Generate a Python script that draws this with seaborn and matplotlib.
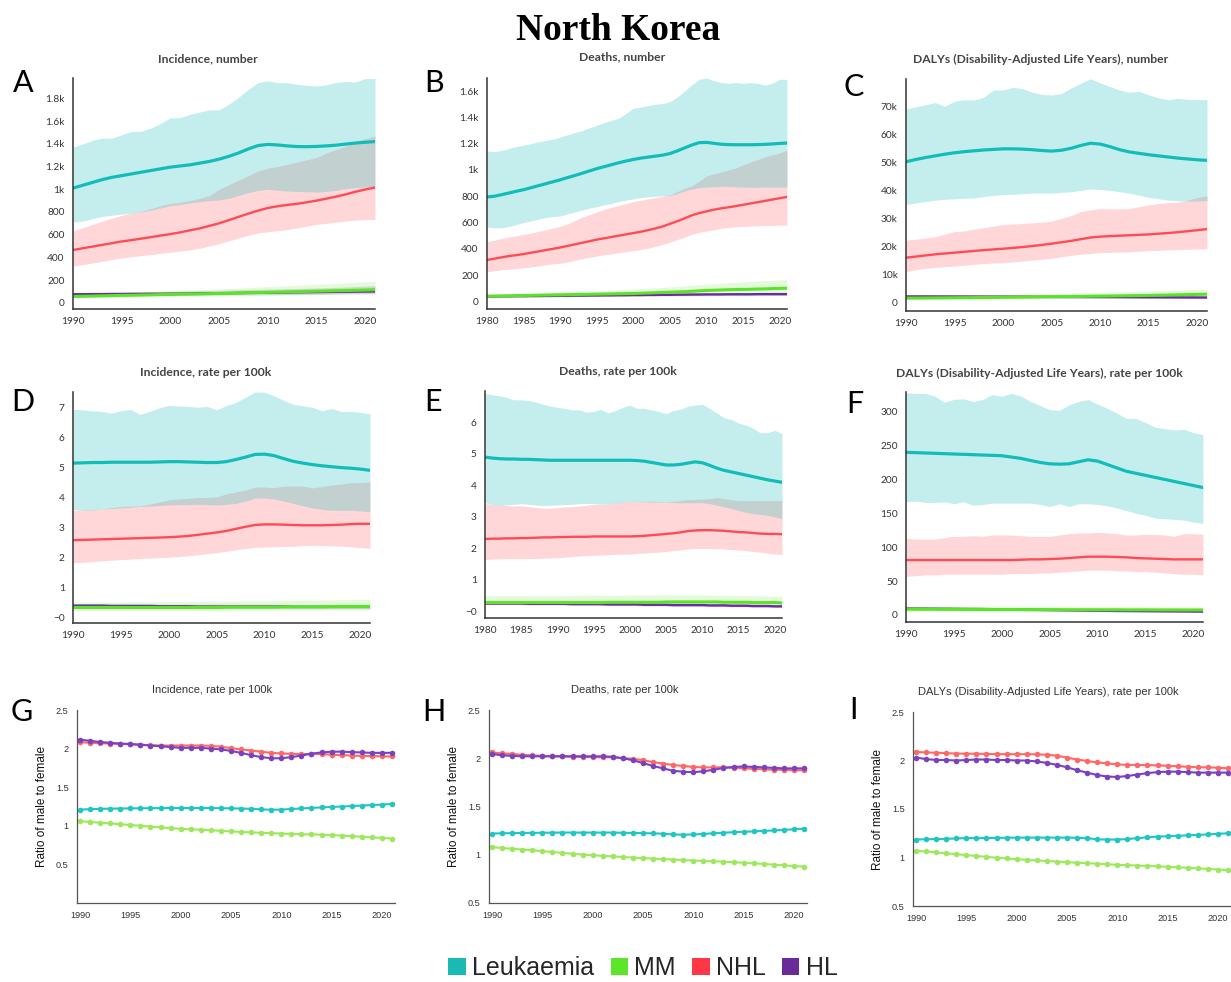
import matplotlib
matplotlib.use("Agg")
import matplotlib.pyplot as plt
import seaborn as sns
from matplotlib.patches import Patch

# ---------------------------------------------------------------- years
years_90 = list(range(1990, 2022))
years_80 = list(range(1980, 2022))
series_names = ["Leukaemia", "MM", "NHL", "HL"]

# ---------------------------------------------------------------- A: incidence, number
a_leuk_mean = [1010, 1035, 1060, 1085, 1105, 1120, 1135, 1150, 1165, 1180,
               1195, 1205, 1215, 1230, 1245, 1265, 1290, 1320, 1355, 1385,
               1395, 1390, 1382, 1376, 1375, 1377, 1382, 1388, 1398, 1407,
               1414, 1420]
a_leuk_hi = [1370, 1400, 1430, 1450, 1450, 1480, 1510, 1510, 1540, 1580,
             1630, 1630, 1660, 1680, 1700, 1700, 1750, 1810, 1880, 1940,
             1955, 1940, 1938, 1925, 1915, 1910, 1920, 1940, 1950, 1945,
             1975, 1975]
a_leuk_lo = [710, 720, 740, 760, 772, 780, 790, 800, 815, 835,
             855, 865, 880, 890, 900, 905, 920, 945, 970, 990,
             1000, 990, 985, 980, 978, 975, 980, 990, 1005, 1015,
             1018, 1020]
a_nhl_mean = [465, 480, 495, 510, 525, 540, 552, 565, 578, 592,
              605, 620, 638, 655, 677, 700, 728, 757, 785, 812,
              835, 850, 862, 872, 885, 900, 917, 935, 955, 978,
              998, 1015]
a_nhl_hi = [635, 660, 690, 720, 745, 770, 790, 805, 830, 855,
            875, 885, 900, 920, 945, 1000, 1040, 1080, 1120, 1160,
            1185, 1200, 1220, 1240, 1260, 1280, 1320, 1350, 1380, 1420,
            1445, 1470]
a_nhl_lo = [325, 335, 350, 365, 380, 395, 405, 415, 425, 435,
            445, 455, 465, 480, 500, 520, 545, 570, 595, 615,
            625, 635, 645, 660, 675, 690, 700, 710, 720, 728,
            732, 735]
a_mm_mean = [55, 57, 59, 61, 63, 65, 66, 68, 70, 72,
             73, 75, 76, 78, 80, 82, 84, 86, 88, 90,
             92, 94, 96, 98, 100, 102, 104, 106, 108, 110,
             112, 115]
a_mm_hi = [75, 78, 81, 84, 87, 90, 93, 96, 99, 102,
           105, 108, 111, 115, 118, 122, 126, 130, 134, 138,
           142, 146, 150, 154, 158, 162, 166, 170, 175, 180,
           185, 190]
a_mm_lo = [45, 46, 47, 48, 49, 50, 51, 52, 53, 54,
           55, 56, 57, 58, 59, 60, 61, 62, 63, 64,
           65, 66, 67, 68, 69, 70, 72, 74, 76, 77,
           78, 80]
a_hl_mean = [75, 75, 76, 76, 77, 77, 78, 78, 79, 79,
             80, 80, 81, 82, 83, 84, 85, 86, 87, 88,
             89, 90, 91, 92, 93, 94, 95, 96, 97, 98,
             99, 100]
a_hl_hi = [90, 91, 92, 93, 94, 95, 96, 97, 98, 99,
           100, 102, 104, 106, 108, 110, 112, 114, 116, 118,
           120, 122, 124, 126, 128, 130, 133, 136, 139, 142,
           146, 150]
a_hl_lo = [62, 62, 63, 63, 64, 64, 65, 65, 66, 66,
           67, 67, 68, 68, 69, 69, 70, 70, 71, 71,
           72, 72, 73, 73, 74, 75, 76, 77, 78, 79,
           79, 80]

# ---------------------------------------------------------------- B: deaths, number (1980-2021)
b_leuk_mean = [795, 800, 812, 825, 838, 850, 865, 880, 895, 910,
               925, 942, 958, 975, 993, 1010, 1025, 1040, 1055, 1068,
               1080, 1090, 1098, 1105, 1113, 1125, 1145, 1168, 1190, 1208,
               1210, 1203, 1196, 1193, 1192, 1192, 1192, 1193, 1195, 1198,
               1202, 1205]
b_leuk_hi = [1145, 1140, 1148, 1165, 1178, 1190, 1200, 1215, 1225, 1235,
             1250, 1268, 1285, 1300, 1320, 1340, 1360, 1378, 1395, 1430,
             1470, 1478, 1490, 1500, 1505, 1520, 1555, 1600, 1650, 1690,
             1700, 1680, 1665, 1660, 1665, 1660, 1665, 1660, 1645, 1660,
             1690, 1690]
b_leuk_lo = [565, 560, 560, 570, 585, 600, 612, 625, 638, 645,
             650, 665, 680, 695, 710, 720, 735, 745, 760, 770,
             780, 790, 795, 800, 803, 805, 820, 840, 855, 865,
             870, 872, 875, 875, 872, 870, 868, 868, 870, 870,
             870, 870]
b_nhl_mean = [315, 325, 335, 345, 352, 360, 370, 380, 390, 400,
              410, 422, 434, 446, 458, 470, 480, 490, 500, 510,
              520, 530, 542, 555, 570, 590, 610, 632, 655, 672,
              685, 698, 708, 716, 725, 735, 745, 755, 765, 775,
              785, 795]
b_nhl_hi = [455, 465, 478, 490, 500, 510, 520, 532, 545, 558,
            570, 590, 615, 640, 660, 680, 700, 715, 730, 745,
            760, 770, 780, 790, 800, 810, 835, 860, 880, 915,
            955, 970, 985, 1000, 1015, 1040, 1060, 1080, 1100, 1115,
            1130, 1150]
b_nhl_lo = [225, 232, 240, 245, 250, 255, 262, 270, 278, 285,
            290, 300, 312, 325, 335, 345, 355, 362, 370, 378,
            385, 395, 405, 418, 432, 450, 470, 490, 510, 525,
            535, 545, 555, 562, 567, 570, 573, 575, 577, 578,
            580, 580]
b_mm_mean = [40, 41, 42, 43, 44, 45, 46, 47, 48, 49,
             50, 51, 52, 53, 54, 55, 56, 57, 58, 59,
             60, 62, 64, 66, 68, 70, 72, 74, 77, 80,
             83, 85, 87, 89, 90, 91, 92, 94, 95, 97,
             99, 100]
b_mm_hi = [50, 52, 54, 56, 58, 60, 62, 64, 66, 68,
           70, 72, 74, 76, 78, 80, 82, 85, 88, 91,
           94, 97, 100, 103, 106, 110, 114, 118, 122, 126,
           130, 134, 138, 142, 145, 148, 151, 154, 157, 160,
           163, 165]
b_mm_lo = [30, 30, 31, 31, 32, 32, 33, 33, 34, 34,
           35, 35, 36, 36, 37, 38, 39, 40, 41, 42,
           43, 44, 45, 46, 47, 48, 49, 50, 51, 52,
           53, 54, 55, 55, 56, 56, 57, 58, 58, 59,
           59, 60]
b_hl_mean = [38, 38, 39, 39, 40, 40, 41, 41, 42, 42,
             43, 43, 44, 44, 45, 45, 46, 46, 47, 47,
             48, 48, 49, 49, 50, 50, 51, 51, 52, 52,
             53, 53, 53, 54, 54, 54, 54, 55, 55, 55,
             55, 55]
b_hl_hi = [48, 48, 49, 49, 50, 50, 51, 51, 52, 52,
           53, 53, 54, 54, 55, 55, 56, 56, 57, 57,
           58, 58, 59, 59, 60, 60, 61, 61, 62, 62,
           63, 63, 64, 64, 65, 65, 66, 66, 67, 67,
           68, 68]
b_hl_lo = [30, 30, 31, 31, 32, 32, 33, 33, 34, 34,
           35, 35, 36, 36, 37, 37, 38, 38, 39, 39,
           40, 40, 40, 41, 41, 41, 42, 42, 42, 43,
           43, 43, 44, 44, 44, 44, 45, 45, 45, 45,
           45, 45]

# ---------------------------------------------------------------- C: DALYs, number
c_leuk_mean = [50200, 51000, 51700, 52300, 52900, 53400, 53800, 54100, 54400, 54600,
               54800, 54800, 54700, 54500, 54200, 54000, 54300, 55000, 56000, 56800,
               56500, 55600, 54500, 53700, 53200, 52700, 52300, 51900, 51500, 51200,
               50900, 50700]
c_leuk_hi = [69000, 69800, 70500, 71300, 70000, 71800, 72300, 72200, 73200, 75800,
             75800, 76700, 76300, 75000, 74200, 74000, 74500, 76500, 78200, 79800,
             78300, 77000, 75800, 75000, 75300, 74000, 73000, 72300, 72800, 72400,
             72400, 72300]
c_leuk_lo = [35000, 35500, 36000, 36500, 36800, 37000, 37200, 37300, 37800, 38200,
             38500, 38600, 38800, 39000, 39000, 39000, 39300, 39500, 40000, 40500,
             40300, 40000, 39500, 39000, 38300, 37500, 37000, 36500, 36300, 36200,
             36200, 36300]
c_nhl_mean = [16000, 16400, 16800, 17200, 17500, 17800, 18100, 18400, 18700, 18950,
              19200, 19500, 19800, 20150, 20550, 21000, 21500, 22000, 22600, 23200,
              23500, 23700, 23850, 24000, 24150, 24300, 24550, 24800, 25100, 25450,
              25800, 26200]
c_nhl_hi = [22300, 22600, 23000, 23500, 24400, 25300, 25500, 26200, 26700, 27300,
            27800, 28000, 28200, 28400, 28700, 29000, 30000, 31000, 32500, 33000,
            33500, 33400, 33400, 33500, 34200, 34800, 35300, 35700, 35800, 36500,
            37500, 38000]
c_nhl_lo = [11000, 11700, 12200, 12500, 12800, 13000, 13300, 13600, 13900, 14100,
            14200, 14500, 14800, 15100, 15400, 15800, 16300, 16800, 17200, 17500,
            17800, 17900, 18000, 18100, 18300, 18500, 18600, 18800, 18900, 19000,
            19100, 19200]
c_mm_mean = [1600, 1620, 1650, 1680, 1700, 1730, 1760, 1790, 1820, 1850,
             1880, 1920, 1960, 2000, 2040, 2080, 2120, 2160, 2200, 2250,
             2300, 2350, 2400, 2450, 2500, 2560, 2620, 2680, 2760, 2840,
             2920, 3000]
c_mm_hi = [2300, 2350, 2400, 2450, 2500, 2560, 2620, 2680, 2740, 2800,
           2870, 2940, 3010, 3080, 3150, 3230, 3310, 3390, 3470, 3550,
           3640, 3730, 3820, 3910, 4000, 4100, 4200, 4300, 4420, 4540,
           4670, 4800]
c_mm_lo = [1100, 1120, 1140, 1160, 1180, 1200, 1230, 1260, 1290, 1320,
           1350, 1380, 1410, 1440, 1470, 1500, 1530, 1560, 1590, 1620,
           1650, 1680, 1710, 1740, 1770, 1800, 1840, 1880, 1910, 1940,
           1970, 2000]
c_hl_mean = [2200, 2200, 2200, 2190, 2180, 2170, 2160, 2150, 2140, 2130,
             2120, 2110, 2100, 2080, 2060, 2040, 2020, 2000, 1990, 1980,
             1970, 1960, 1950, 1930, 1910, 1890, 1870, 1860, 1850, 1830,
             1810, 1800]
c_hl_hi = [2700, 2700, 2700, 2690, 2680, 2670, 2660, 2650, 2640, 2630,
           2620, 2610, 2600, 2590, 2580, 2570, 2560, 2550, 2540, 2530,
           2520, 2510, 2500, 2490, 2480, 2470, 2460, 2450, 2440, 2430,
           2420, 2400]
c_hl_lo = [1800, 1800, 1790, 1780, 1770, 1760, 1750, 1740, 1730, 1720,
           1710, 1700, 1690, 1680, 1670, 1660, 1650, 1640, 1620, 1600,
           1590, 1580, 1560, 1540, 1520, 1500, 1490, 1470, 1450, 1430,
           1420, 1400]

# ---------------------------------------------------------------- D: incidence, rate per 100k
d_leuk_mean = [5.15, 5.16, 5.17, 5.17, 5.18, 5.18, 5.18, 5.18, 5.18, 5.19,
               5.20, 5.20, 5.19, 5.18, 5.17, 5.17, 5.20, 5.27, 5.35, 5.44,
               5.45, 5.40, 5.30, 5.21, 5.15, 5.10, 5.06, 5.03, 5.00, 4.98,
               4.95, 4.91]
d_leuk_hi = [6.95, 6.93, 6.90, 6.88, 6.82, 6.90, 6.95, 6.78, 6.88, 7.00,
             7.08, 7.06, 7.05, 7.02, 7.05, 6.93, 7.08, 7.18, 7.35, 7.53,
             7.52, 7.40, 7.25, 7.12, 7.07, 7.02, 6.90, 6.98, 6.88, 6.88,
             6.85, 6.80]
d_leuk_lo = [3.60, 3.57, 3.58, 3.62, 3.63, 3.65, 3.67, 3.70, 3.71, 3.73,
             3.75, 3.76, 3.76, 3.77, 3.76, 3.75, 3.77, 3.80, 3.88, 3.98,
             3.98, 3.95, 3.88, 3.80, 3.72, 3.65, 3.60, 3.57, 3.57, 3.57,
             3.55, 3.52]
d_nhl_mean = [2.57, 2.58, 2.59, 2.60, 2.61, 2.62, 2.63, 2.64, 2.65, 2.66,
              2.67, 2.69, 2.71, 2.75, 2.79, 2.83, 2.88, 2.95, 3.02, 3.08,
              3.10, 3.10, 3.09, 3.08, 3.07, 3.07, 3.07, 3.08, 3.09, 3.11,
              3.12, 3.12]
d_nhl_hi = [3.57, 3.58, 3.60, 3.62, 3.66, 3.70, 3.71, 3.72, 3.78, 3.85,
            3.92, 3.95, 3.97, 4.00, 4.00, 4.02, 4.12, 4.18, 4.25, 4.35,
            4.35, 4.33, 4.38, 4.38, 4.38, 4.32, 4.37, 4.42, 4.45, 4.50,
            4.50, 4.52]
d_nhl_lo = [1.82, 1.83, 1.85, 1.88, 1.90, 1.92, 1.94, 1.96, 1.97, 1.99,
            2.00, 2.02, 2.05, 2.08, 2.12, 2.15, 2.20, 2.25, 2.29, 2.33,
            2.34, 2.35, 2.36, 2.37, 2.39, 2.40, 2.39, 2.38, 2.37, 2.35,
            2.32, 2.30]
d_mm_mean = [0.32, 0.32, 0.32, 0.32, 0.32, 0.32, 0.32, 0.32, 0.32, 0.32,
             0.32, 0.32, 0.32, 0.32, 0.32, 0.32, 0.33, 0.33, 0.33, 0.33,
             0.33, 0.33, 0.34, 0.34, 0.34, 0.34, 0.34, 0.35, 0.35, 0.35,
             0.35, 0.35]
d_mm_hi = [0.50, 0.50, 0.50, 0.50, 0.50, 0.50, 0.51, 0.51, 0.51, 0.51,
           0.52, 0.52, 0.52, 0.52, 0.53, 0.53, 0.53, 0.53, 0.54, 0.54,
           0.54, 0.55, 0.55, 0.55, 0.56, 0.56, 0.57, 0.57, 0.58, 0.58,
           0.59, 0.60]
d_mm_lo = [0.22, 0.22, 0.22, 0.22, 0.22, 0.22, 0.22, 0.22, 0.22, 0.22,
           0.22, 0.22, 0.22, 0.22, 0.22, 0.22, 0.22, 0.23, 0.23, 0.23,
           0.23, 0.23, 0.23, 0.23, 0.23, 0.23, 0.23, 0.23, 0.23, 0.23,
           0.23, 0.23]
d_hl_mean = [0.38, 0.38, 0.38, 0.38, 0.37, 0.37, 0.37, 0.37, 0.37, 0.36,
             0.36, 0.36, 0.36, 0.35, 0.35, 0.35, 0.35, 0.35, 0.35, 0.35,
             0.35, 0.35, 0.35, 0.34, 0.34, 0.34, 0.34, 0.34, 0.34, 0.34,
             0.34, 0.34]
d_hl_hi = [0.45, 0.45, 0.45, 0.45, 0.44, 0.44, 0.44, 0.44, 0.44, 0.43,
           0.43, 0.43, 0.43, 0.43, 0.43, 0.43, 0.43, 0.43, 0.43, 0.43,
           0.43, 0.43, 0.43, 0.42, 0.42, 0.42, 0.42, 0.42, 0.42, 0.42,
           0.42, 0.42]
d_hl_lo = [0.30, 0.30, 0.30, 0.30, 0.30, 0.30, 0.29, 0.29, 0.29, 0.29,
           0.29, 0.29, 0.29, 0.28, 0.28, 0.28, 0.28, 0.28, 0.28, 0.28,
           0.28, 0.28, 0.28, 0.28, 0.28, 0.28, 0.28, 0.28, 0.28, 0.28,
           0.28, 0.28]

# ---------------------------------------------------------------- E: deaths, rate per 100k (1980-2021)
e_leuk_mean = [4.90, 4.87, 4.85, 4.84, 4.84, 4.83, 4.83, 4.82, 4.81, 4.80,
               4.80, 4.80, 4.80, 4.80, 4.80, 4.80, 4.80, 4.80, 4.80, 4.80,
               4.80, 4.79, 4.77, 4.73, 4.69, 4.65, 4.65, 4.67, 4.71, 4.75,
               4.72, 4.64, 4.55, 4.48, 4.43, 4.38, 4.33, 4.28, 4.23, 4.18,
               4.14, 4.10]
e_leuk_hi = [6.92, 6.88, 6.85, 6.80, 6.72, 6.72, 6.70, 6.65, 6.58, 6.52,
             6.48, 6.45, 6.40, 6.40, 6.33, 6.35, 6.42, 6.30, 6.38, 6.48,
             6.55, 6.45, 6.45, 6.40, 6.35, 6.28, 6.38, 6.42, 6.52, 6.55,
             6.58, 6.45, 6.30, 6.15, 6.10, 5.98, 5.92, 5.82, 5.67, 5.68,
             5.75, 5.65]
e_leuk_lo = [3.45, 3.40, 3.37, 3.38, 3.40, 3.42, 3.40, 3.38, 3.36, 3.37,
             3.38, 3.39, 3.40, 3.42, 3.43, 3.42, 3.41, 3.42, 3.44, 3.47,
             3.50, 3.49, 3.48, 3.47, 3.47, 3.47, 3.46, 3.45, 3.45, 3.45,
             3.45, 3.42, 3.38, 3.32, 3.27, 3.20, 3.15, 3.10, 3.08, 3.05,
             3.00, 2.95]
e_nhl_mean = [2.30, 2.31, 2.31, 2.32, 2.32, 2.33, 2.33, 2.34, 2.35, 2.35,
              2.36, 2.36, 2.37, 2.37, 2.37, 2.38, 2.38, 2.38, 2.38, 2.38,
              2.38, 2.39, 2.40, 2.42, 2.44, 2.46, 2.48, 2.51, 2.55, 2.57,
              2.58, 2.58, 2.57, 2.56, 2.54, 2.52, 2.51, 2.49, 2.47, 2.46,
              2.46, 2.45]
e_nhl_hi = [3.42, 3.40, 3.38, 3.36, 3.35, 3.35, 3.33, 3.30, 3.28, 3.28,
            3.30, 3.32, 3.33, 3.35, 3.37, 3.40, 3.40, 3.42, 3.45, 3.48,
            3.50, 3.50, 3.50, 3.50, 3.49, 3.48, 3.50, 3.52, 3.55, 3.56,
            3.57, 3.58, 3.62, 3.58, 3.55, 3.52, 3.52, 3.52, 3.52, 3.52,
            3.52, 3.52]
e_nhl_lo = [1.65, 1.66, 1.67, 1.68, 1.68, 1.68, 1.68, 1.68, 1.69, 1.70,
            1.70, 1.72, 1.74, 1.76, 1.77, 1.78, 1.79, 1.80, 1.81, 1.82,
            1.82, 1.84, 1.85, 1.87, 1.88, 1.90, 1.93, 1.95, 1.98, 2.00,
            2.00, 2.00, 1.99, 1.98, 1.96, 1.95, 1.93, 1.90, 1.88, 1.85,
            1.82, 1.80]
e_mm_mean = [0.28, 0.28, 0.28, 0.28, 0.28, 0.28, 0.28, 0.28, 0.28, 0.28,
             0.28, 0.28, 0.28, 0.28, 0.28, 0.28, 0.28, 0.29, 0.29, 0.29,
             0.29, 0.29, 0.29, 0.29, 0.29, 0.30, 0.30, 0.30, 0.30, 0.30,
             0.30, 0.30, 0.30, 0.29, 0.29, 0.29, 0.29, 0.28, 0.28, 0.28,
             0.28, 0.27]
e_mm_hi = [0.50, 0.50, 0.50, 0.50, 0.50, 0.50, 0.50, 0.50, 0.50, 0.50,
           0.50, 0.50, 0.51, 0.51, 0.51, 0.51, 0.51, 0.51, 0.51, 0.51,
           0.52, 0.52, 0.52, 0.52, 0.52, 0.52, 0.52, 0.52, 0.52, 0.52,
           0.52, 0.52, 0.52, 0.51, 0.51, 0.50, 0.50, 0.50, 0.49, 0.49,
           0.48, 0.48]
e_mm_lo = [0.22, 0.22, 0.22, 0.22, 0.22, 0.22, 0.22, 0.22, 0.22, 0.22,
           0.22, 0.22, 0.22, 0.22, 0.22, 0.22, 0.22, 0.22, 0.22, 0.22,
           0.23, 0.23, 0.23, 0.23, 0.23, 0.23, 0.23, 0.23, 0.23, 0.23,
           0.23, 0.23, 0.23, 0.23, 0.23, 0.22, 0.22, 0.22, 0.22, 0.22,
           0.22, 0.22]
e_hl_mean = [0.25, 0.25, 0.25, 0.25, 0.25, 0.25, 0.24, 0.24, 0.24, 0.24,
             0.24, 0.24, 0.23, 0.23, 0.23, 0.23, 0.23, 0.22, 0.22, 0.22,
             0.22, 0.22, 0.21, 0.21, 0.21, 0.21, 0.20, 0.20, 0.20, 0.20,
             0.20, 0.19, 0.19, 0.19, 0.18, 0.18, 0.18, 0.17, 0.17, 0.17,
             0.16, 0.16]
e_hl_hi = [0.30, 0.30, 0.30, 0.30, 0.30, 0.30, 0.29, 0.29, 0.29, 0.29,
           0.29, 0.29, 0.28, 0.28, 0.28, 0.28, 0.28, 0.27, 0.27, 0.27,
           0.27, 0.27, 0.26, 0.26, 0.26, 0.26, 0.25, 0.25, 0.25, 0.25,
           0.25, 0.24, 0.24, 0.24, 0.23, 0.23, 0.23, 0.22, 0.22, 0.22,
           0.21, 0.21]
e_hl_lo = [0.21, 0.21, 0.21, 0.21, 0.21, 0.21, 0.20, 0.20, 0.20, 0.20,
           0.20, 0.20, 0.19, 0.19, 0.19, 0.19, 0.19, 0.18, 0.18, 0.18,
           0.18, 0.18, 0.17, 0.17, 0.17, 0.17, 0.16, 0.16, 0.16, 0.16,
           0.16, 0.15, 0.15, 0.15, 0.14, 0.14, 0.14, 0.13, 0.13, 0.13,
           0.12, 0.12]

# ---------------------------------------------------------------- F: DALYs, rate per 100k
f_leuk_mean = [240, 239.5, 239, 238.5, 238, 237.5, 237, 236.5, 236, 235.5,
               235, 233, 231, 228, 225, 223, 222.5, 223, 226, 229,
               227, 222, 217, 212, 209, 206, 203, 200, 197, 194,
               191, 188]
f_leuk_hi = [328, 327, 327, 323, 314, 318, 319, 315, 318, 325,
             323, 327, 323, 315, 309, 303, 302, 310, 315, 318,
             311, 305, 298, 290, 290, 284, 277, 275, 273, 274,
             269, 266]
f_leuk_lo = [167, 168, 166, 166, 167, 164, 167, 162, 163, 165,
             165, 165, 165, 165, 163, 160, 164, 160, 164, 164,
             163, 161, 158, 154, 150, 147, 143, 142, 141, 140,
             137, 135]
f_nhl_mean = [81, 81, 81, 81, 81, 81, 81, 81, 81, 81,
              81, 81, 81.5, 82, 82, 82.5, 83, 84, 85, 86,
              86, 86, 85.5, 85, 84, 83.5, 83, 82.5, 82, 82,
              82, 82]
f_nhl_hi = [113, 112, 112, 112, 114, 116, 116, 117, 116, 118,
            118, 118, 117, 116, 116, 116, 118, 120, 121, 121,
            122, 121, 120, 118, 118, 119, 119, 118, 116, 120,
            120, 119]
f_nhl_lo = [57, 58, 59, 59, 60, 60, 60, 60, 60, 60,
            60, 61, 61, 61, 62, 62, 63, 64, 65, 66,
            66, 66, 65, 65, 64, 64, 63, 62, 61, 60,
            60, 59]
f_mm_mean = [8.5, 8.5, 8.4, 8.4, 8.3, 8.3, 8.2, 8.2, 8.1, 8.1,
             8.0, 8.0, 7.9, 7.9, 7.8, 7.8, 7.8, 7.7, 7.7, 7.7,
             7.6, 7.6, 7.6, 7.5, 7.5, 7.5, 7.4, 7.4, 7.4, 7.3,
             7.3, 7.3]
f_mm_hi = [13.0, 13.0, 12.9, 12.9, 12.8, 12.8, 12.8, 12.7, 12.7, 12.7,
           12.6, 12.6, 12.6, 12.5, 12.5, 12.5, 12.4, 12.4, 12.4, 12.3,
           12.3, 12.3, 12.2, 12.2, 12.2, 12.1, 12.1, 12.1, 12.0, 12.0,
           12.0, 12.0]
f_mm_lo = [5.5, 5.5, 5.5, 5.5, 5.5, 5.4, 5.4, 5.4, 5.4, 5.4,
           5.3, 5.3, 5.3, 5.3, 5.3, 5.2, 5.2, 5.2, 5.2, 5.2,
           5.1, 5.1, 5.1, 5.1, 5.1, 5.0, 5.0, 5.0, 5.0, 5.0,
           5.0, 5.0]
f_hl_mean = [9.5, 9.4, 9.3, 9.2, 9.1, 9.0, 8.9, 8.8, 8.7, 8.5,
             8.3, 8.1, 7.9, 7.7, 7.5, 7.3, 7.1, 6.9, 6.7, 6.5,
             6.3, 6.1, 5.9, 5.8, 5.7, 5.6, 5.5, 5.4, 5.3, 5.2,
             5.1, 5.0]
f_hl_hi = [11.5, 11.4, 11.3, 11.2, 11.1, 11.0, 10.9, 10.8, 10.7, 10.5,
           10.3, 10.1, 9.9, 9.7, 9.4, 9.1, 8.9, 8.7, 8.5, 8.2,
           8.0, 7.8, 7.6, 7.4, 7.3, 7.2, 7.0, 6.9, 6.8, 6.7,
           6.6, 6.5]
f_hl_lo = [7.8, 7.7, 7.6, 7.5, 7.4, 7.3, 7.2, 7.1, 7.0, 6.9,
           6.7, 6.5, 6.3, 6.1, 5.9, 5.7, 5.6, 5.4, 5.3, 5.1,
           4.9, 4.8, 4.7, 4.6, 4.5, 4.4, 4.3, 4.2, 4.2, 4.1,
           4.0, 4.0]

# ---------------------------------------------------------------- G/H/I: male-to-female ratios
g_leuk = [1.21, 1.215, 1.22, 1.222, 1.224, 1.226, 1.227, 1.228, 1.229, 1.23,
          1.23, 1.23, 1.23, 1.23, 1.228, 1.226, 1.224, 1.22, 1.212, 1.208,
          1.21, 1.218, 1.225, 1.232, 1.238, 1.244, 1.25, 1.256, 1.262, 1.268,
          1.275, 1.283]
g_mm = [1.06, 1.05, 1.04, 1.03, 1.02, 1.01, 1.0, 0.99, 0.98, 0.97,
        0.96, 0.955, 0.95, 0.942, 0.935, 0.927, 0.92, 0.915, 0.91, 0.905,
        0.9, 0.895, 0.89, 0.888, 0.885, 0.88, 0.873, 0.866, 0.858, 0.85,
        0.843, 0.835]
g_nhl = [2.083, 2.075, 2.07, 2.065, 2.06, 2.055, 2.05, 2.045, 2.04, 2.04,
         2.04, 2.04, 2.04, 2.035, 2.025, 2.005, 1.99, 1.975, 1.96, 1.945,
         1.937, 1.932, 1.93, 1.93, 1.928, 1.922, 1.915, 1.91, 1.905, 1.902,
         1.9, 1.898]
g_hl = [2.117, 2.1, 2.085, 2.075, 2.065, 2.06, 2.05, 2.04, 2.03, 2.02,
        2.01, 2.01, 2.01, 2.0, 1.99, 1.97, 1.945, 1.915, 1.89, 1.875,
        1.875, 1.89, 1.91, 1.935, 1.95, 1.96, 1.96, 1.955, 1.95, 1.945,
        1.945, 1.945]

h_leuk = [1.22, 1.222, 1.224, 1.226, 1.227, 1.228, 1.229, 1.23, 1.23, 1.23,
          1.23, 1.23, 1.23, 1.228, 1.226, 1.224, 1.222, 1.218, 1.21, 1.208,
          1.21, 1.216, 1.222, 1.228, 1.234, 1.238, 1.242, 1.247, 1.252, 1.258,
          1.264, 1.27]
h_mm = [1.08, 1.07, 1.062, 1.054, 1.046, 1.037, 1.028, 1.019, 1.01, 1.002,
        0.995, 0.989, 0.983, 0.977, 0.971, 0.965, 0.96, 0.955, 0.95, 0.945,
        0.94, 0.936, 0.932, 0.928, 0.923, 0.917, 0.911, 0.905, 0.897, 0.89,
        0.883, 0.876]
h_nhl = [2.06, 2.05, 2.045, 2.035, 2.03, 2.025, 2.02, 2.02, 2.015, 2.015,
         2.01, 2.01, 2.01, 2.0, 1.995, 1.98, 1.96, 1.945, 1.93, 1.92,
         1.91, 1.905, 1.905, 1.905, 1.9, 1.895, 1.89, 1.885, 1.88, 1.88,
         1.875, 1.875]
h_hl = [2.045, 2.03, 2.025, 2.02, 2.02, 2.02, 2.02, 2.02, 2.02, 2.02,
        2.02, 2.02, 2.015, 2.0, 1.98, 1.95, 1.92, 1.895, 1.87, 1.86,
        1.855, 1.865, 1.88, 1.9, 1.91, 1.915, 1.91, 1.905, 1.9, 1.895,
        1.895, 1.895]

i_leuk = [1.185, 1.188, 1.19, 1.193, 1.196, 1.2, 1.2, 1.2, 1.202, 1.204,
          1.205, 1.205, 1.205, 1.205, 1.205, 1.205, 1.203, 1.2, 1.187, 1.185,
          1.185, 1.19, 1.2, 1.208, 1.215, 1.22, 1.224, 1.228, 1.233, 1.238,
          1.244, 1.25]
i_mm = [1.07, 1.062, 1.052, 1.043, 1.034, 1.025, 1.016, 1.007, 0.998, 0.99,
        0.982, 0.976, 0.97, 0.964, 0.958, 0.952, 0.946, 0.941, 0.936, 0.93,
        0.925, 0.921, 0.917, 0.913, 0.909, 0.904, 0.899, 0.894, 0.888, 0.882,
        0.876, 0.87]
i_nhl = [2.088, 2.083, 2.08, 2.075, 2.072, 2.07, 2.07, 2.068, 2.066, 2.065,
         2.065, 2.065, 2.063, 2.06, 2.05, 2.03, 2.01, 1.995, 1.98, 1.97,
         1.96, 1.955, 1.955, 1.952, 1.95, 1.945, 1.94, 1.935, 1.93, 1.93,
         1.925, 1.92]
i_hl = [2.03, 2.015, 2.005, 2.005, 2.0, 2.005, 2.01, 2.01, 2.005, 2.005,
        2.0, 2.0, 1.99, 1.975, 1.955, 1.93, 1.9, 1.875, 1.85, 1.835,
        1.83, 1.84, 1.855, 1.87, 1.88, 1.885, 1.885, 1.88, 1.875, 1.875,
        1.875, 1.875]

# ---------------------------------------------------------------- styling
line_colors = {"Leukaemia": "#12BDB8", "MM": "#5CE22A", "NHL": "#FF4B55", "HL": "#6A2C9C"}
band_alpha = {"Leukaemia": 0.25, "MM": 0.17, "NHL": 0.22, "HL": 0.17}
line_widths = {"Leukaemia": 2.3, "MM": 2.2, "NHL": 1.7, "HL": 1.7}
ratio_colors = {"Leukaemia": "#20C6C2", "MM": "#9EE85E", "NHL": "#FF6868", "HL": "#7A42C0"}
legend_colors = {"Leukaemia": "#1AB9B4", "MM": "#5CE629", "NHL": "#FF3646", "HL": "#6A2A99"}

sns.set_theme(style="white")
plt.rcParams["font.family"] = ["Lato", "DejaVu Sans"]

W, H = 1231, 982
fig = plt.figure(figsize=(W / 100, H / 100), dpi=100)


def add_axes_px(left, top, width, height):
    return fig.add_axes([left / W, 1 - (top + height) / H, width / W, height / H])


def kfmt(v):
    if v == 0:
        return "0"
    if abs(v) >= 1000:
        return f"{v / 1000:g}k"
    return f"{v:g}"


def band_panel(ax, years, data, ylim, yticks, ylabels, xticks):
    # uncertainty intervals: NHL underneath, Leukaemia laid over it
    for name in ["NHL", "Leukaemia", "MM", "HL"]:
        mean, lo, hi = data[name]
        ax.fill_between(years, lo, hi, color=line_colors[name],
                        alpha=band_alpha[name], lw=0)
    for name in ["Leukaemia", "NHL", "HL", "MM"]:
        mean, lo, hi = data[name]
        sns.lineplot(x=years, y=mean, color=line_colors[name],
                     lw=line_widths[name], ax=ax, legend=False)
    ax.set_xlim(years[0], years[-1])
    ax.set_ylim(*ylim)
    # d3-style outer ticks at both ends of each axis domain
    ax.set_yticks(list(yticks) + [ylim[0], ylim[1]])
    ax.set_yticklabels(list(ylabels) + ["", ""])
    ax.set_xticks(list(xticks) + [years[-1]])
    ax.set_xticklabels([str(x) for x in xticks] + [""])
    for s in ["top", "right"]:
        ax.spines[s].set_visible(False)
    for s in ["left", "bottom"]:
        ax.spines[s].set_color("#333333")
        ax.spines[s].set_linewidth(1.1)
    ax.tick_params(axis="both", direction="out", length=4, width=1,
                   color="#333333", labelsize=7.3, labelcolor="#333333", pad=2)
    ax.set_xlabel("")
    ax.set_ylabel("")
    ax.grid(False)


def ratio_panel(ax, ratios, ylim, yticks):
    for name in ["Leukaemia", "MM", "NHL", "HL"]:
        sns.lineplot(x=years_90, y=ratios[name], color=ratio_colors[name],
                     lw=1.5, marker="o", markersize=4, markeredgewidth=0,
                     ax=ax, legend=False)
    ax.set_xlim(1989.7, 2021.3)
    ax.set_ylim(*ylim)
    ax.set_yticks(yticks)
    ax.set_yticklabels([f"{t:g}" for t in yticks], fontfamily="Liberation Sans")
    ax.set_xticks([1990, 1995, 2000, 2005, 2010, 2015, 2020])
    ax.set_xticklabels(["1990", "1995", "2000", "2005", "2010", "2015", "2020"],
                       fontfamily="Liberation Sans")
    for s in ["top", "right"]:
        ax.spines[s].set_visible(False)
    for s in ["left", "bottom"]:
        ax.spines[s].set_color("#555555")
        ax.spines[s].set_linewidth(0.9)
    ax.tick_params(axis="both", direction="out", length=3, width=0.8,
                   color="#555555", labelsize=6.6, labelcolor="#333333", pad=3)
    ax.set_xlabel("")
    ax.set_ylabel("Ratio of male to female", fontsize=8.5,
                  fontfamily="Liberation Sans", color="#111111", labelpad=6)
    ax.grid(False)


x_90 = [1990, 1995, 2000, 2005, 2010, 2015, 2020]
x_80 = [1980, 1985, 1990, 1995, 2000, 2005, 2010, 2015, 2020]

# ---- row 1
axA = add_axes_px(73, 78, 302, 231)
band_panel(axA, years_90,
           {"Leukaemia": (a_leuk_mean, a_leuk_lo, a_leuk_hi),
            "NHL": (a_nhl_mean, a_nhl_lo, a_nhl_hi),
            "MM": (a_mm_mean, a_mm_lo, a_mm_hi),
            "HL": (a_hl_mean, a_hl_lo, a_hl_hi)},
           (-55, 1980), range(0, 2000, 200), [kfmt(v) for v in range(0, 2000, 200)], x_90)

axB = add_axes_px(487, 78, 300, 231)
band_panel(axB, years_80,
           {"Leukaemia": (b_leuk_mean, b_leuk_lo, b_leuk_hi),
            "NHL": (b_nhl_mean, b_nhl_lo, b_nhl_hi),
            "MM": (b_mm_mean, b_mm_lo, b_mm_hi),
            "HL": (b_hl_mean, b_hl_lo, b_hl_hi)},
           (-58, 1700), range(0, 1800, 200), [kfmt(v) for v in range(0, 1800, 200)], x_80)

axC = add_axes_px(906, 79, 301, 232)
band_panel(axC, years_90,
           {"Leukaemia": (c_leuk_mean, c_leuk_lo, c_leuk_hi),
            "NHL": (c_nhl_mean, c_nhl_lo, c_nhl_hi),
            "MM": (c_mm_mean, c_mm_lo, c_mm_hi),
            "HL": (c_hl_mean, c_hl_lo, c_hl_hi)},
           (-3000, 79700), range(0, 80000, 10000), [kfmt(v) for v in range(0, 80000, 10000)], x_90)

# ---- row 2
axD = add_axes_px(73, 392, 297, 231)
band_panel(axD, years_90,
           {"Leukaemia": (d_leuk_mean, d_leuk_lo, d_leuk_hi),
            "NHL": (d_nhl_mean, d_nhl_lo, d_nhl_hi),
            "MM": (d_mm_mean, d_mm_lo, d_mm_hi),
            "HL": (d_hl_mean, d_hl_lo, d_hl_hi)},
           (-0.2, 7.53), range(0, 8), ["\u22120"] + [str(v) for v in range(1, 8)], x_90)

axE = add_axes_px(485, 391, 297, 227)
band_panel(axE, years_80,
           {"Leukaemia": (e_leuk_mean, e_leuk_lo, e_leuk_hi),
            "NHL": (e_nhl_mean, e_nhl_lo, e_nhl_hi),
            "MM": (e_mm_mean, e_mm_lo, e_mm_hi),
            "HL": (e_hl_mean, e_hl_lo, e_hl_hi)},
           (-0.21, 7.0), range(0, 7), ["\u22120"] + [str(v) for v in range(1, 7)], x_80)

axF = add_axes_px(906, 392, 297, 230)
band_panel(axF, years_90,
           {"Leukaemia": (f_leuk_mean, f_leuk_lo, f_leuk_hi),
            "NHL": (f_nhl_mean, f_nhl_lo, f_nhl_hi),
            "MM": (f_mm_mean, f_mm_lo, f_mm_hi),
            "HL": (f_hl_mean, f_hl_lo, f_hl_hi)},
           (-10.4, 329), range(0, 350, 50), [str(v) for v in range(0, 350, 50)], x_90)

# ---- row 3
axG = add_axes_px(77, 710, 318, 193)
ratio_panel(axG, {"Leukaemia": g_leuk, "MM": g_mm, "NHL": g_nhl, "HL": g_hl},
            (0, 2.5), [0.5, 1, 1.5, 2, 2.5])
axH = add_axes_px(489, 710, 318, 193)
ratio_panel(axH, {"Leukaemia": h_leuk, "MM": h_mm, "NHL": h_nhl, "HL": h_hl},
            (0.5, 2.5), [0.5, 1, 1.5, 2, 2.5])
axI = add_axes_px(913, 712, 318, 194)
ratio_panel(axI, {"Leukaemia": i_leuk, "MM": i_mm, "NHL": i_nhl, "HL": i_hl},
            (0.5, 2.5), [0.5, 1, 1.5, 2, 2.5])

# ---- titles
def fig_text(x, y, s, **kw):
    fig.text(x / W, 1 - y / H, s, ha="center", va="center", **kw)

fig_text(618, 30, "North Korea", fontsize=27, fontweight="bold",
         fontfamily="Liberation Serif", color="black")

top_titles = [(208, 59, "Incidence, number"),
              (622, 57, "Deaths, number"),
              (1041, 59, "DALYs (Disability-Adjusted Life Years), number"),
              (206, 373, "Incidence, rate per 100k"),
              (618, 371, "Deaths, rate per 100k"),
              (1039, 373, "DALYs (Disability-Adjusted Life Years), rate per 100k")]
for x, y, s in top_titles:
    fig_text(x, y, s, fontsize=8.7, fontweight="bold", color="#444444")

ratio_titles = [(212, 690, "Incidence, rate per 100k"),
                (625, 690, "Deaths, rate per 100k"),
                (1048, 692, "DALYs (Disability-Adjusted Life Years), rate per 100k")]
for x, y, s in ratio_titles:
    fig_text(x, y, s, fontsize=8, fontfamily="Liberation Sans", color="#333333")

letters = [(23, 83, "A"), (434, 83, "B"), (854, 87, "C"),
           (23, 402, "D"), (433, 402, "E"), (855, 404, "F"),
           (22, 712, "G"), (434, 712, "H"), (854, 710, "I")]
for x, y, s in letters:
    fig_text(x, y, s, fontsize=22, color="black")

# ---- legend
handles = [Patch(facecolor=legend_colors[n], edgecolor="none") for n in series_names]
fig.legend(handles, series_names, loc="center", bbox_to_anchor=(643 / W, 1 - 968 / H),
           ncol=4, frameon=False, prop={"family": "Liberation Sans", "size": 18},
           handlelength=0.7, handleheight=0.7, handletextpad=0.25, columnspacing=0.65)

fig.savefig("out.png", dpi=100)
